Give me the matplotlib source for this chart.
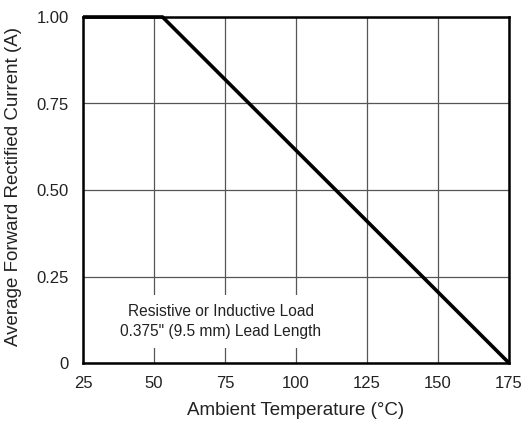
import matplotlib
matplotlib.use("Agg")
import matplotlib.pyplot as plt

temp = [25, 53, 175]
current = [1.0, 1.0, 0.0]
xticks = [25, 50, 75, 100, 125, 150, 175]
yticks = [0, 0.25, 0.50, 0.75, 1.00]
ylabels = ["0", "0.25", "0.50", "0.75", "1.00"]

plt.rcParams['font.family'] = ['Liberation Sans', 'DejaVu Sans']
fig = plt.figure(figsize=(5.24, 4.23), dpi=100)
ax = fig.add_axes([83/524, 1 - 363/423, (509-83)/524, (363-17)/423])
ax.plot(temp, current, color='black', lw=2.6, solid_capstyle='butt', zorder=3, clip_on=False)
ax.set_xlim(25, 175)
ax.set_ylim(0, 1.0)
ax.set_xticks(xticks)
ax.set_yticks(yticks)
ax.set_yticklabels(ylabels)
ax.grid(True, color='#555555', lw=0.9)
ax.set_axisbelow(True)
for s in ax.spines.values():
    s.set_linewidth(1.8)
    s.set_color('black')
ax.tick_params(length=0, labelsize=12, colors='#222222')
ax.tick_params(axis='x', pad=9)
ax.tick_params(axis='y', pad=10)
ax.set_xlabel('Ambient Temperature (°C)', fontsize=13.5, labelpad=8, color='#222222')
ax.set_ylabel('Average Forward Rectified Current (A)', fontsize=13.5, labelpad=12, color='#222222')
ax.yaxis.set_label_coords(-61/426, (363-187)/346)
ax.text(73.5, 0.12, 'Resistive or Inductive Load\n0.375" (9.5 mm) Lead Length',
        ha='center', va='center', fontsize=11.2, color='#222222', linespacing=1.45,
        bbox=dict(facecolor='white', edgecolor='none', pad=6), zorder=2)
fig.savefig('out.png', dpi=100)
